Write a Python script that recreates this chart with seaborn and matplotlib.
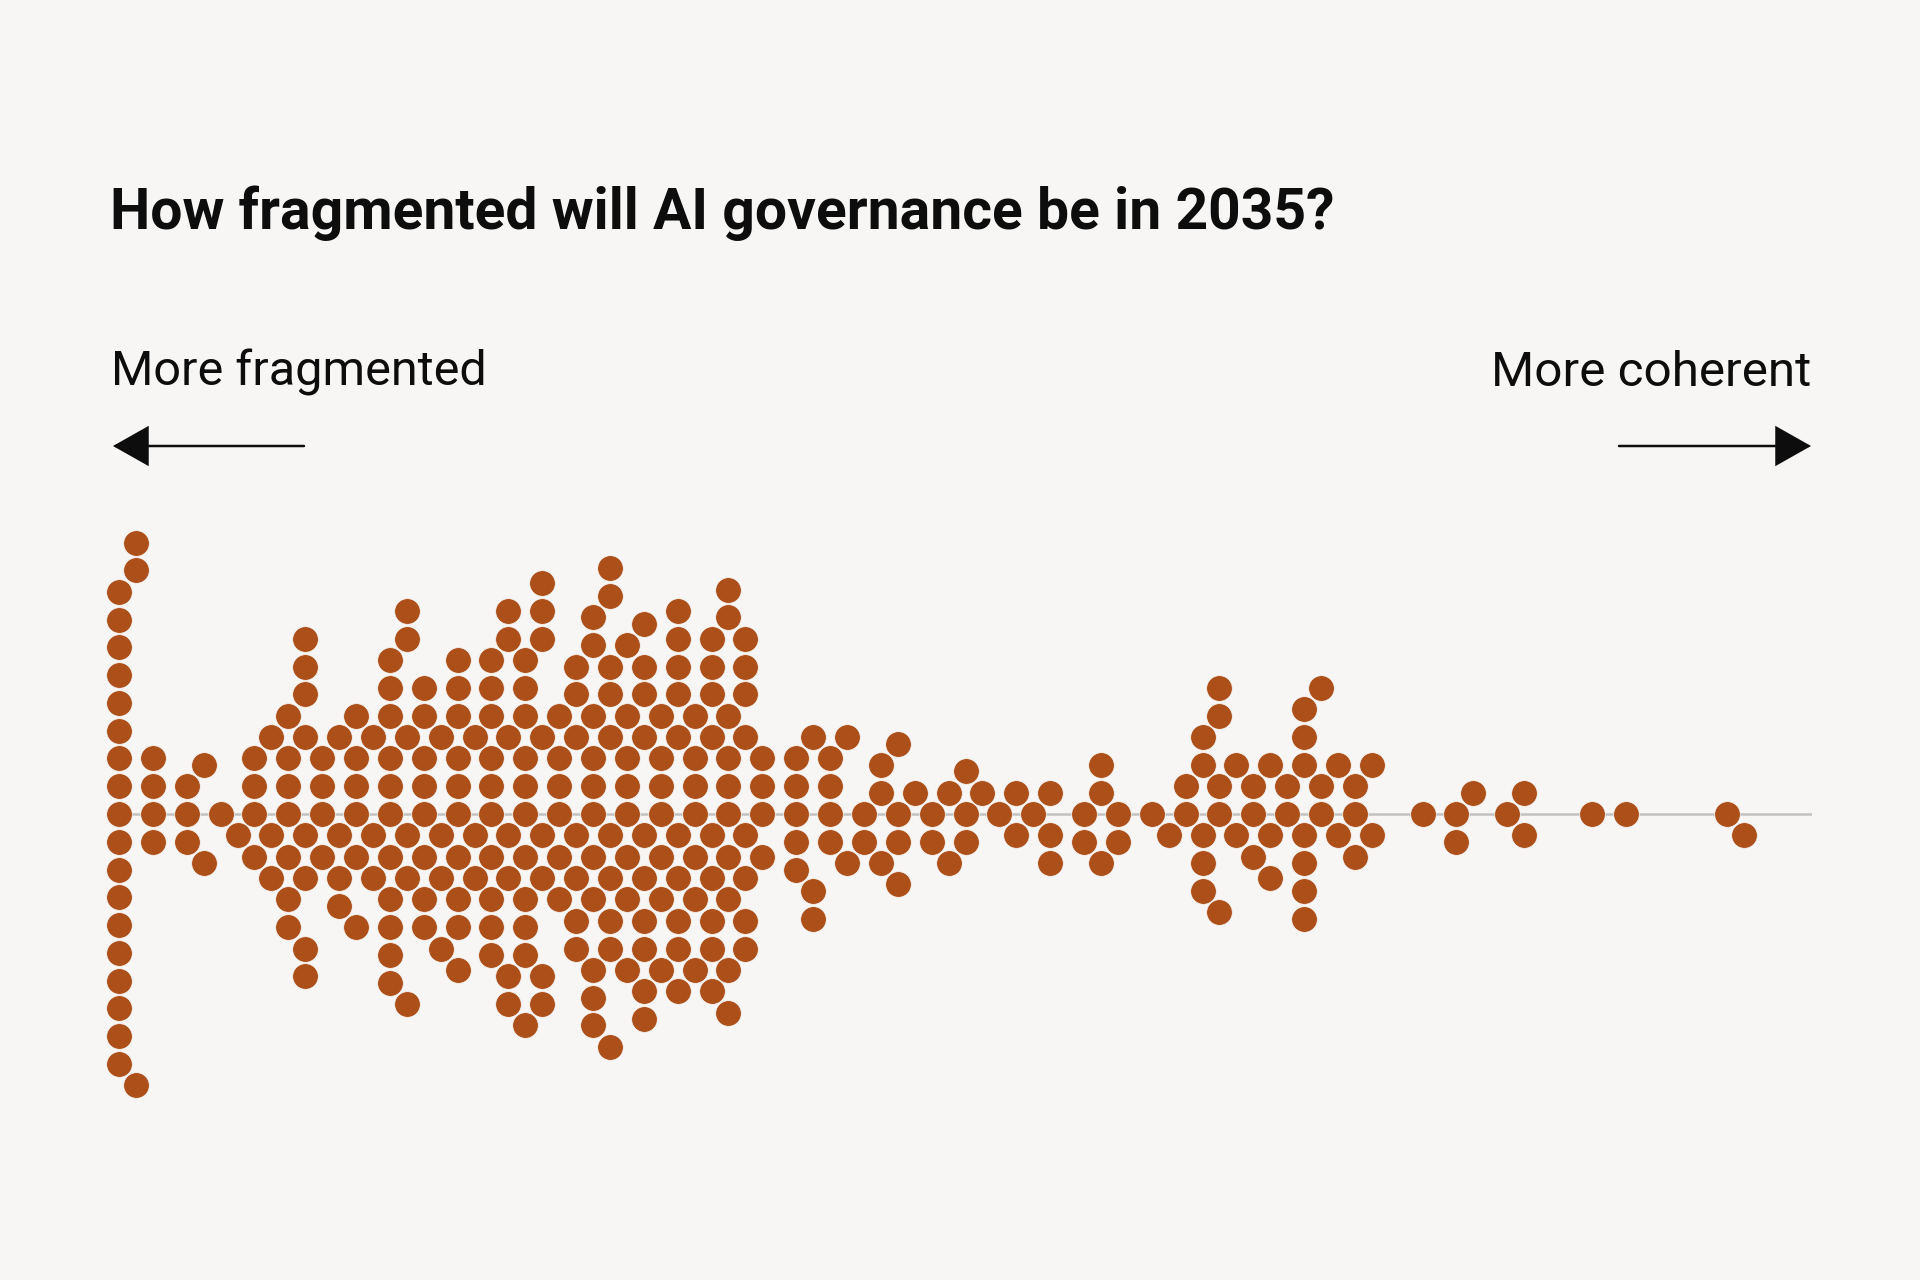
import numpy as np
import pandas as pd
import matplotlib
matplotlib.use("Agg")
import matplotlib.pyplot as plt
import seaborn as sns

# ---------------- data ----------------
# score on the 0 (more fragmented) .. 100 (more coherent) scale
score_values = [0, 1, 2, 4, 5, 6, 7, 8, 9,
                10, 11, 12, 13, 14, 15, 16, 17, 18, 19,
                20, 21, 22, 23, 24, 25, 26, 27, 28, 29,
                30, 31, 32, 33, 34, 35, 36, 37, 38,
                40, 41, 42, 43, 44, 45, 46, 47, 48, 49,
                50, 51, 52, 53, 54, 55, 57, 58, 59,
                61, 62, 63, 64, 65, 66, 67, 68, 69,
                70, 71, 72, 73, 74, 77, 79,
                80, 82, 83, 87, 89, 95, 96]
# number of respondents (dots) at each score
respondent_counts = [18, 3, 4, 3, 2, 1, 1, 4, 3,
                     7, 8, 4, 4, 6, 3, 11, 6, 8, 4,
                     10, 3, 10, 7, 11, 8, 6, 7, 11, 10,
                     8, 10, 7, 10, 7, 9, 10, 8, 4,
                     5, 3, 4, 2, 2, 3, 4, 1, 2, 2,
                     3, 1, 1, 2, 1, 3, 2, 3, 2,
                     1, 1, 2, 5, 5, 2, 3, 3, 2,
                     7, 3, 2, 3, 2, 1, 2,
                     1, 1, 2, 1, 1, 1, 1]
assert len(score_values) == len(respondent_counts)

title_text = "How fragmented will AI governance be in 2035?"
left_label = "More fragmented"
right_label = "More coherent"

# ---------------- style ----------------
BG = "#F7F6F4"
DOT = "#AD4F19"
LINE = "#C4C2C0"
INK = "#0D0D0D"

sns.set_theme(style="white", rc={"figure.facecolor": BG, "axes.facecolor": BG})
plt.rcParams["font.family"] = ["Roboto", "DejaVu Sans"]

W, H, DPI = 1920, 1280, 100
fig = plt.figure(figsize=(W / DPI, H / DPI), dpi=DPI, facecolor=BG)

x0_px, x1_px = 119, 1812          # pixel span of the 0..100 scale
mid_px = H - 814                  # pixel height of the centre line
half_px = 360
ax = fig.add_axes([x0_px / W, (mid_px - half_px) / H,
                   (x1_px - x0_px) / W, 2 * half_px / H])
ax.set_facecolor(BG)

df = pd.DataFrame({"score": np.repeat(score_values, respondent_counts)})

ax.axhline(0, color=LINE, lw=1.8, zorder=0)
sns.swarmplot(data=df, x="score", ax=ax, color=DOT, size=18.5,
              linewidth=0.55, edgecolor=BG, zorder=2)
ax.set_xlim(0, 100)
ax.set_ylim(0.45, -0.45)
ax.set_axis_off()
for c in ax.collections:
    c.set_clip_on(False)

# ---------------- texts ----------------
renderer = fig.canvas.get_renderer()


def fitted_text(s, x_px, y_top_px, target_w, weight, ha="left", base=40):
    t = fig.text(x_px / W, 1 - y_top_px / H, s, fontsize=base,
                 fontweight=weight, ha=ha, va="baseline", color=INK)
    w = t.get_window_extent(renderer).width
    t.set_fontsize(base * target_w / w)
    return t


fitted_text(title_text, 110, 229, 1223, "bold")
fitted_text(left_label, 111, 386, 376, "normal")
fitted_text(right_label, 1811, 386, 320, "normal", ha="right")

# ---------------- direction arrows ----------------
arrow_props = dict(arrowstyle="-|>,head_length=23,head_width=13",
                   lw=1.8, color=INK, shrinkA=0, shrinkB=0,
                   mutation_scale=1, joinstyle="miter")
ay = H - 446
ax.annotate("", xy=(113, ay), xycoords="figure pixels",
            xytext=(304, ay), textcoords="figure pixels",
            arrowprops=arrow_props, annotation_clip=False)
ax.annotate("", xy=(1811, ay), xycoords="figure pixels",
            xytext=(1619, ay), textcoords="figure pixels",
            arrowprops=arrow_props, annotation_clip=False)

fig.savefig("out.png", dpi=DPI, facecolor=BG)
